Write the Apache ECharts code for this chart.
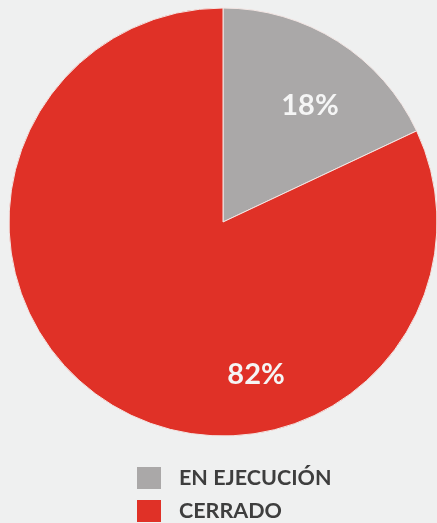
<!DOCTYPE html>
<html><head><meta charset="utf-8">
<script src="https://cdn.jsdelivr.net/npm/echarts@6/dist/echarts.min.js"></script>
<style>html,body{margin:0;padding:0;background:#eff0f0}#c{width:437px;height:523px}</style>
</head><body><div id="c"></div>
<script>
const categories = ['EN EJECUCIÓN', 'CERRADO'];
const values = [18, 82];
const colors = ['#aaa8a8', '#e03127'];
const labelOffsets = [[28, -23], [92, 60]];
const legendTops = [467, 500];

const chart = echarts.init(document.getElementById('c'));
chart.setOption({
  backgroundColor: '#eff0f0',
  animation: false,
  legend: categories.map((n, i) => ({
    orient: 'vertical',
    left: 137, top: legendTops[i],
    padding: 0,
    itemWidth: 24, itemHeight: 22,
    icon: 'rect',
    itemStyle: { borderWidth: 0 },
    data: [n],
    textStyle: { fontFamily: 'Lato', fontWeight: 'bold', fontSize: 21.5, color: '#3e3e3e', padding: [0, 0, 0, 13] }
  })),
  series: [{
    type: 'pie',
    center: [223, 222],
    radius: 214,
    startAngle: 90,
    clockwise: true,
    label: {
      show: true, position: 'inside',
      formatter: '{c}%',
      color: '#f5f5f5', fontFamily: 'Lato', fontWeight: 'bold', fontSize: 29
    },
    labelLine: { show: false },
    itemStyle: { borderColor: '#f3e6e4', borderWidth: 1 },
    emphasis: { disabled: true },
    data: categories.map((n, i) => ({
      name: n, value: values[i],
      itemStyle: { color: colors[i] },
      label: { offset: labelOffsets[i] }
    }))
  }]
});
</script></body></html>
